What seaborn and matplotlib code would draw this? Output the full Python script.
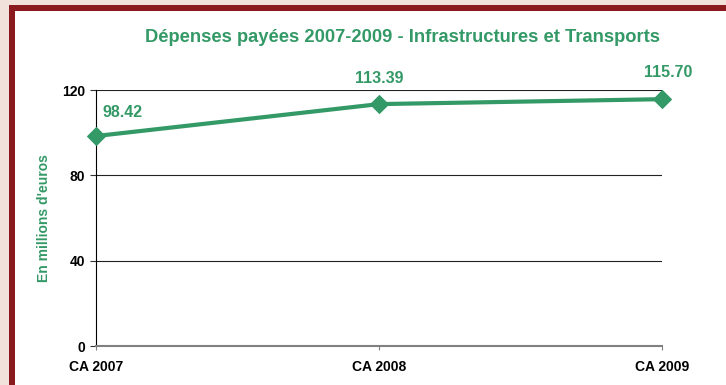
import matplotlib
matplotlib.use("Agg")
import matplotlib.pyplot as plt
import seaborn as sns
import pandas as pd
from matplotlib.patches import Rectangle

categories = ["CA 2007", "CA 2008", "CA 2009"]
values = [98.42, 113.39, 115.70]
yticks = [0, 40, 80, 120]

sns.set_theme(style="white")
plt.rcParams['font.family'] = ['Liberation Sans', 'DejaVu Sans']

GREEN = "#339966"
W, H = 726, 385
fig = plt.figure(figsize=(W / 100, H / 100), dpi=100)
fig.patch.set_facecolor("#f2e2dc")
fig.patches.append(Rectangle((9 / W, -0.1), 1.2, 1 - 5 / H + 0.1, transform=fig.transFigure,
                             facecolor="#8b1a1f", edgecolor="none", zorder=-10))
fig.patches.append(Rectangle((15 / W, -0.1), 1.2, 1 - 11 / H + 0.1, transform=fig.transFigure,
                             facecolor="white", edgecolor="none", zorder=-9))

ax = fig.add_axes([96 / W, 1 - 346 / H, (662 - 96) / W, (346 - 90) / H])
ax.set_facecolor("none")

df = pd.DataFrame({"x": range(len(categories)), "y": values})
sns.lineplot(data=df, x="x", y="y", ax=ax, color=GREEN, linewidth=3.0,
             marker="D", markersize=9.5, markeredgecolor=GREEN, clip_on=False, zorder=5)

ax.set_xlim(0, len(categories) - 1)
ax.set_ylim(0, 120)
ax.set_yticks(yticks)
ax.set_yticklabels([str(t) for t in yticks], fontsize=10, fontweight="bold", color="black")
ax.set_xticks(range(len(categories)))
ax.set_xticklabels(categories, fontsize=10, fontweight="bold", color="black")
ax.tick_params(axis="y", length=4, width=0.8, color="#333333", pad=4, left=True)
ax.tick_params(axis="x", length=3, width=0.8, color="#808080", pad=7, bottom=True)

for t in yticks[1:]:
    ax.axhline(t, color="#222222", linewidth=0.8, zorder=1)

for s in ["top", "right"]:
    ax.spines[s].set_visible(False)
ax.spines["left"].set_color("black")
ax.spines["left"].set_linewidth(0.8)
ax.spines["bottom"].set_color("#808080")
ax.spines["bottom"].set_linewidth(1.5)

ax.set_xlabel("")
ax.set_ylabel("En millions d'euros", fontsize=10, fontweight="bold", color=GREEN, labelpad=8)

offsets = [(27, 24), (0, 26), (6, 27)]
for i, v in enumerate(values):
    ax.annotate(f"{v:.2f}", (i, v), xytext=offsets[i], textcoords="offset pixels",
                ha="center", va="center", fontsize=11.5, fontweight="bold", color=GREEN,
                annotation_clip=False)

fig.text(402 / W, 1 - 37 / H, "Dépenses payées 2007-2009 - Infrastructures et Transports",
         ha="center", va="center", fontsize=13.2, fontweight="bold", color=GREEN)

fig.savefig("out.png", dpi=100, facecolor=fig.get_facecolor())
